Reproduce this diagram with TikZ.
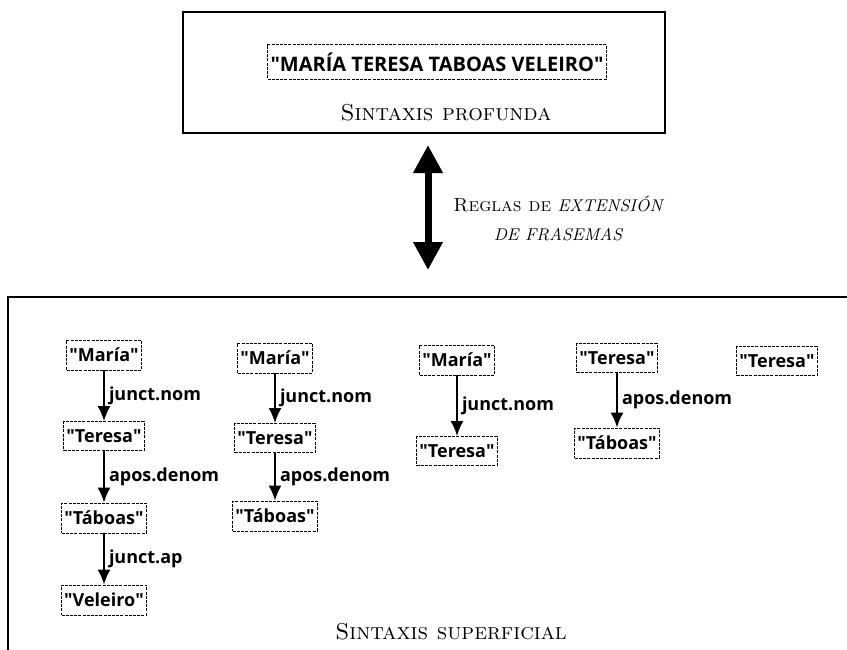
\documentclass[tikz,border=0pt]{standalone}
\usepackage{fontspec}
\setsansfont{Open Sans}
\usetikzlibrary{arrows.meta,shapes,calc}
\tikzstyle{word}=[draw,thin,dash pattern=on 1.5pt off 0.6pt,inner xsep=1.3pt,inner ysep=4pt,font=\sffamily\bfseries\fontsize{9}{10}\selectfont]
\tikzstyle{edge}=[draw,line width=1pt,-{Latex[length=7.5pt,width=6.5pt]}]
\tikzstyle{weight}=[font=\sffamily\bfseries\fontsize{9}{10}\selectfont,inner sep=2pt]
\tikzstyle{frame}=[draw,line width=1.2pt]
\tikzstyle{caption}=[font=\fontsize{11.5}{14.5}\selectfont]
\tikzstyle{bigarrow}=[line width=3.5pt,{Triangle[length=14pt,width=14pt]}-{Triangle[length=14pt,width=14pt]}]
\newcommand{\qt}[1]{\textquotedbl#1\textquotedbl}

\begin{document}
\begin{tikzpicture}[x=0.5pt,y=-0.5pt,auto]
    \useasboundingbox (0,0) rectangle (847,649);
    \clip (0,0) rectangle (847,649);

    % Deep syntax level
    \node[frame,minimum width=241pt,minimum height=60.5pt,inner sep=0pt] (upper) at (424,72.5) {};
    \node[word,font=\sffamily\bfseries\fontsize{10}{12}\selectfont,inner xsep=1.5pt,inner ysep=4pt] (phraseme) at (437,62) {\qt{MARÍA TERESA TABOAS VELEIRO}};
    \node[caption] (deepcap) at (446,113) {\textsc{Sintaxis profunda}};

    % Rules between the levels
    \coordinate (arrtop) at (428,145);
    \coordinate (arrbot) at (428,270);
    \draw[bigarrow] (arrtop) -- (arrbot);
    \node[font=\fontsize{9.5}{14.5}\selectfont,align=center] (rules) at (558,218) {\textsc{Reglas de} {\itshape\fontsize{8.5}{14.5}\selectfont EXTENSIÓN}\\{\itshape\fontsize{8.5}{14.5}\selectfont DE FRASEMAS}};

    % Surface syntax level
    \draw[frame] (8,297) rectangle (900,700);

    % First we draw the vertices
    \foreach \pos/\name/\txt in {{(104,355)/m1/María},{(104,436)/t1/Teresa},{(104,518)/tb1/Táboas},{(104,600)/v1/Veleiro},
        {(275,358)/m2/María},{(275,438)/t2/Teresa},{(275,516)/tb2/Táboas},
        {(457,360)/m3/María},{(457,451)/t3/Teresa},
        {(617,358)/t4/Teresa},{(617,443)/tb4/Táboas},
        {(777,361)/t5/Teresa}}
        \node[word] (\name) at \pos {\qt{\txt}};

    % Connect vertices with edges and draw relations
    \foreach \source/\dest/\weight in {m1/t1/junct.nom,t1/tb1/apos.denom,tb1/v1/junct.ap,
        m2/t2/junct.nom,t2/tb2/apos.denom,m3/t3/junct.nom,t4/tb4/apos.denom}
        \path[edge] (\source) -- node[weight] {\weight} (\dest);

    \node[caption] (surfcap) at (451,632) {\textsc{Sintaxis superficial}};
\end{tikzpicture}
\end{document}
